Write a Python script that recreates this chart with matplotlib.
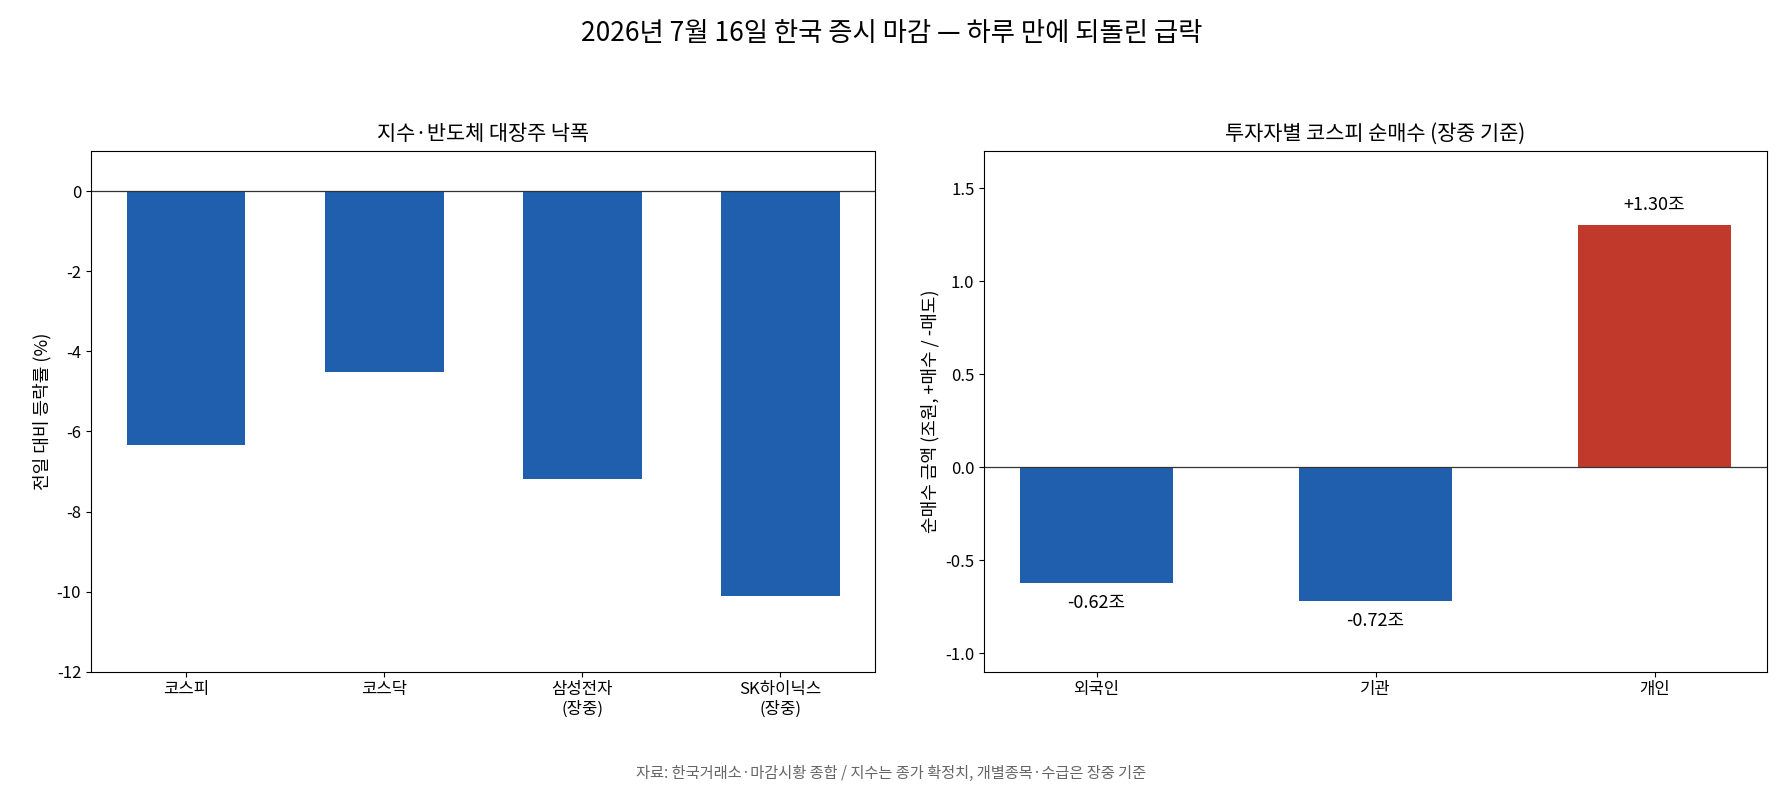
import matplotlib.pyplot as plt

plt.rcParams['font.family'] = ['Noto Sans CJK KR', 'DejaVu Sans']
plt.rcParams['axes.unicode_minus'] = False

stocks = ["코스피", "코스닥", "삼성전자\n(장중)", "SK하이닉스\n(장중)"]
stock_changes = [-6.33, -4.51, -7.19, -10.1]

investors = ["외국인", "기관", "개인"]
net_buy = [-0.62, -0.72, 1.30]
net_labels = ["-0.62조", "-0.72조", "+1.30조"]

BLUE = "#1f5fad"
RED = "#c0392b"

fig = plt.figure(figsize=(17.83, 7.95), dpi=100)
ax1 = fig.add_axes([0.051, 0.155, 0.44, 0.655])
ax2 = fig.add_axes([0.552, 0.155, 0.439, 0.655])

ax1.bar(range(len(stocks)), stock_changes, width=0.6, color=BLUE)
ax1.axhline(0, color="#333333", linewidth=0.9)
ax1.set_xticks(range(len(stocks)))
ax1.set_xticklabels(stocks, fontsize=12)
ax1.set_ylim(-12, 1)
ax1.set_yticks([0, -2, -4, -6, -8, -10, -12])
ax1.tick_params(axis="y", labelsize=12)
ax1.set_ylabel("전일 대비 등락률 (%)", fontsize=13)
ax1.set_title("지수·반도체 대장주 낙폭", fontsize=15, pad=8)

colors = [BLUE if v < 0 else RED for v in net_buy]
ax2.bar(range(len(investors)), net_buy, width=0.55, color=colors)
ax2.axhline(0, color="#333333", linewidth=0.9)
for i, (v, lab) in enumerate(zip(net_buy, net_labels)):
    off = 0.06 if v > 0 else -0.06
    ax2.text(i, v + off, lab, ha="center", va="bottom" if v > 0 else "top", fontsize=13)
ax2.set_xticks(range(len(investors)))
ax2.set_xticklabels(investors, fontsize=12)
ax2.set_ylim(-1.1, 1.7)
ax2.set_yticks([-1.0, -0.5, 0.0, 0.5, 1.0, 1.5])
ax2.tick_params(axis="y", labelsize=12)
ax2.set_ylabel("순매수 금액 (조원, +매수 / -매도)", fontsize=13)
ax2.set_title("투자자별 코스피 순매수 (장중 기준)", fontsize=15, pad=8)

fig.suptitle("2026년 7월 16일 한국 증시 마감 — 하루 만에 되돌린 급락", fontsize=19, y=0.975)
fig.text(0.5, 0.022, "자료: 한국거래소·마감시황 종합 / 지수는 종가 확정치, 개별종목·수급은 장중 기준",
         ha="center", fontsize=11, color="#666666")

fig.savefig("out.png", dpi=100)
